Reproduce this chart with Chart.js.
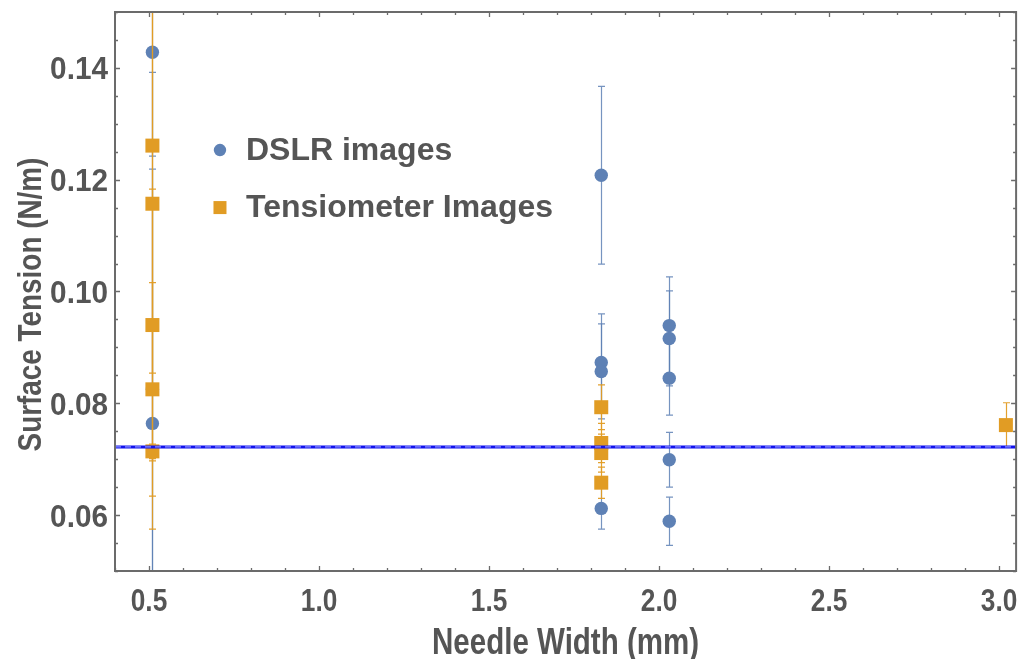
<!DOCTYPE html>
<html>
<head>
<meta charset="utf-8">
<script src="https://cdn.jsdelivr.net/npm/chart.js@4.4.1/dist/chart.umd.min.js"></script>
<style>
  html, body { margin: 0; padding: 0; background: #ffffff; }
  #wrap { width: 1026px; height: 659px; }
</style>
</head>
<body>
<div id="wrap"><canvas id="chart" width="1026" height="659"></canvas></div>
<script>
// Surface tension measured by pendant drop, per needle width
const dslrWidth   = [0.51, 0.51, 0.51, 1.83, 1.83, 1.83, 1.83, 2.03, 2.03, 2.03, 2.03, 2.03];
const dslrTension = [0.1428, 0.0825, 0.0764, 0.1208, 0.0873, 0.0857, 0.0612, 0.0939, 0.0916, 0.0845, 0.0699, 0.0589];
const dslrError   = [0.0186, 0.0394, 0.0628, 0.0159, 0.0087, 0.0085, 0.0037, 0.0087, 0.0085, 0.0066, 0.0049, 0.0043];

const tensioWidth   = [0.51, 0.51, 0.51, 0.51, 0.51, 1.83, 1.83, 1.83, 1.83, 3.02];
const tensioTension = [0.1261, 0.1157, 0.0940, 0.0825, 0.0714, 0.0793, 0.0729, 0.0711, 0.0658, 0.0761];
const tensioError   = [0.0407, 0.0582, 0.0243, 0.0191, 0.0013, 0.0040, 0.0035, 0.0034, 0.0028, 0.0040];

// Accepted surface tension of water (N/m)
const waterTension = 0.0722;

const xTickValues = [0.5, 1.0, 1.5, 2.0, 2.5, 3.0];
const yTickValues = [0.06, 0.08, 0.10, 0.12, 0.14];
const xTickLabels = ['0.5', '1.0', '1.5', '2.0', '2.5', '3.0'];
const yTickLabels = ['0.06', '0.08', '0.10', '0.12', '0.14'];
const xTitle = 'Needle Width (mm)';
const yTitle = 'Surface Tension (N/m)';
const legendOrder = ['DSLR images', 'Tensiometer Images'];
const xRange = [0.40, 3.05];
const yRange = [0.05, 0.15];

const BLUE = '#5e81b5';
const ORANGE = '#e19c24';
const TEXT = '#555555';
const FRAME = '#6b6b6b';
const AXIS_FONT = "'Liberation Sans', Arial, sans-serif";

const toPoints = (xs, ys) => xs.map((x, i) => ({ x: x, y: ys[i] }));

// Vertical error bars with caps, drawn just before each dataset's markers
const errorBars = {
  id: 'errorBars',
  beforeDatasetDraw(chart, args) {
    const ds = chart.data.datasets[args.index];
    if (!ds.errors) return;
    const { ctx, chartArea, scales } = chart;
    ctx.save();
    ctx.beginPath();
    ctx.rect(chartArea.left, chartArea.top, chartArea.right - chartArea.left, chartArea.bottom - chartArea.top);
    ctx.clip();
    ctx.strokeStyle = ds.errorColor;
    ctx.lineWidth = 1.2;
    const cap = 3.5;
    ds.data.forEach((p, i) => {
      const x = Math.round(scales.x.getPixelForValue(p.x)) + 0.5;
      const yHi = scales.y.getPixelForValue(p.y + ds.errors[i]);
      const yLo = scales.y.getPixelForValue(p.y - ds.errors[i]);
      ctx.beginPath();
      ctx.moveTo(x, yHi); ctx.lineTo(x, yLo);
      ctx.moveTo(x - cap, yHi); ctx.lineTo(x + cap, yHi);
      ctx.moveTo(x - cap, yLo); ctx.lineTo(x + cap, yLo);
      ctx.stroke();
    });
    ctx.restore();
  }
};

// Boxed frame with inward ticks on all four sides
const frame = {
  id: 'frame',
  afterDraw(chart) {
    const { ctx, chartArea: a, scales } = chart;
    ctx.save();
    ctx.strokeStyle = FRAME;
    ctx.lineWidth = 2;
    ctx.strokeRect(a.left, a.top, a.right - a.left, a.bottom - a.top);
    ctx.lineWidth = 1.3;
    ctx.beginPath();
    for (let k = 4; k <= 30; k++) {
      const v = k / 10;
      const len = k % 5 === 0 ? 5 : 3;
      const x = Math.round(scales.x.getPixelForValue(v)) + 0.5;
      ctx.moveTo(x, a.bottom); ctx.lineTo(x, a.bottom - len);
      ctx.moveTo(x, a.top); ctx.lineTo(x, a.top + len);
    }
    for (let k = 10; k <= 30; k++) {
      const v = k / 200;
      const len = k % 4 === 0 ? 5 : 3;
      const y = Math.round(scales.y.getPixelForValue(v)) + 0.5;
      ctx.moveTo(a.left, y); ctx.lineTo(a.left + len, y);
      ctx.moveTo(a.right, y); ctx.lineTo(a.right - len, y);
    }
    ctx.stroke();
    ctx.restore();
  }
};

// Condensed bold tick labels and axis titles, positioned from the scales
function axisLabel(ctx, text, x, y, size, squeeze, align, rotate) {
  ctx.save();
  ctx.translate(x, y);
  if (rotate) ctx.rotate(-Math.PI / 2);
  ctx.scale(squeeze, 1);
  ctx.font = 'bold ' + size + 'px ' + AXIS_FONT;
  ctx.textAlign = align;
  ctx.textBaseline = 'alphabetic';
  ctx.fillText(text, 0, size * 0.358);
  ctx.restore();
}

const axisText = {
  id: 'axisText',
  afterDraw(chart) {
    const { ctx, chartArea: a, scales } = chart;
    ctx.save();
    ctx.fillStyle = TEXT;
    xTickValues.forEach((v, i) => {
      axisLabel(ctx, xTickLabels[i], scales.x.getPixelForValue(v), a.bottom + 29, 32, 0.82, 'center', false);
    });
    yTickValues.forEach((v, i) => {
      axisLabel(ctx, yTickLabels[i], a.left - 7, scales.y.getPixelForValue(v), 32, 0.93, 'right', false);
    });
    axisLabel(ctx, xTitle, (a.left + a.right) / 2, a.bottom + 70, 36, 0.82, 'center', false);
    axisLabel(ctx, yTitle, 29, (a.top + a.bottom) / 2 + 13, 34, 0.82, 'center', true);
    ctx.restore();
  }
};

// Legend placed inside the plot area
const insideLegend = {
  id: 'insideLegend',
  afterDraw(chart) {
    const { ctx, chartArea: a } = chart;
    const x0 = a.left + 0.1165 * (a.right - a.left);
    const y0 = a.top + 0.247 * (a.bottom - a.top);
    const rowGap = 57;
    ctx.save();
    ctx.font = "bold 32px 'Liberation Sans', Arial, sans-serif";
    ctx.textBaseline = 'middle';
    ctx.textAlign = 'left';
    legendOrder.forEach((name, i) => {
      const d = chart.data.datasets.find(ds => ds.label === name);
      const y = y0 + i * rowGap;
      ctx.fillStyle = d.backgroundColor;
      if (d.pointStyle === 'rect') {
        ctx.fillRect(x0 - 6.5, y - 6, 13, 13);
      } else {
        ctx.beginPath();
        ctx.arc(x0, y, 6.2, 0, Math.PI * 2);
        ctx.fill();
      }
      ctx.fillStyle = TEXT;
      ctx.fillText(d.label, x0 + 26, y + 1);
    });
    ctx.restore();
  }
};

new Chart(document.getElementById('chart'), {
  type: 'scatter',
  data: {
    datasets: [
      {
        label: 'reference',
        type: 'line',
        data: [{ x: xRange[0], y: waterTension }, { x: xRange[1], y: waterTension }],
        borderColor: 'rgba(140,150,255,0.95)',
        borderWidth: 1.2,
        borderDash: [6, 4],
        pointRadius: 0,
        order: -3
      },
      {
        label: 'reference solid',
        type: 'line',
        data: [{ x: xRange[0], y: waterTension }, { x: xRange[1], y: waterTension }],
        borderColor: '#1212ee',
        borderWidth: 3,
        pointRadius: 0,
        order: -2
      },
      {
        label: 'Tensiometer Images',
        data: toPoints(tensioWidth, tensioTension),
        errors: tensioError,
        errorColor: 'rgba(225,156,36,0.95)',
        pointStyle: 'rect',
        pointRadius: 9.9,
        backgroundColor: ORANGE,
        borderWidth: 0,
        order: 0
      },
      {
        label: 'DSLR images',
        data: toPoints(dslrWidth, dslrTension),
        errors: dslrError,
        errorColor: 'rgba(94,129,181,0.85)',
        pointStyle: 'circle',
        pointRadius: 6.7,
        backgroundColor: BLUE,
        borderWidth: 0,
        order: 1
      }
    ]
  },
  options: {
    responsive: false,
    animation: false,
    events: [],
    layout: { padding: { top: 12, right: 9, left: 0, bottom: 0 } },
    plugins: { legend: { display: false }, tooltip: { enabled: false } },
    scales: {
      x: {
        type: 'linear',
        min: xRange[0],
        max: xRange[1],
        grid: { display: false },
        border: { display: false },
        afterBuildTicks: s => { s.ticks = xTickValues.map(v => ({ value: v })); },
        afterFit: s => { s.height = 88; },
        ticks: { display: false }
      },
      y: {
        type: 'linear',
        min: yRange[0],
        max: yRange[1],
        grid: { display: false },
        border: { display: false },
        afterBuildTicks: s => { s.ticks = yTickValues.map(v => ({ value: v })); },
        afterFit: s => { s.width = 115; },
        ticks: { display: false }
      }
    }
  },
  plugins: [errorBars, frame, axisText, insideLegend]
});
</script>
</body>
</html>
